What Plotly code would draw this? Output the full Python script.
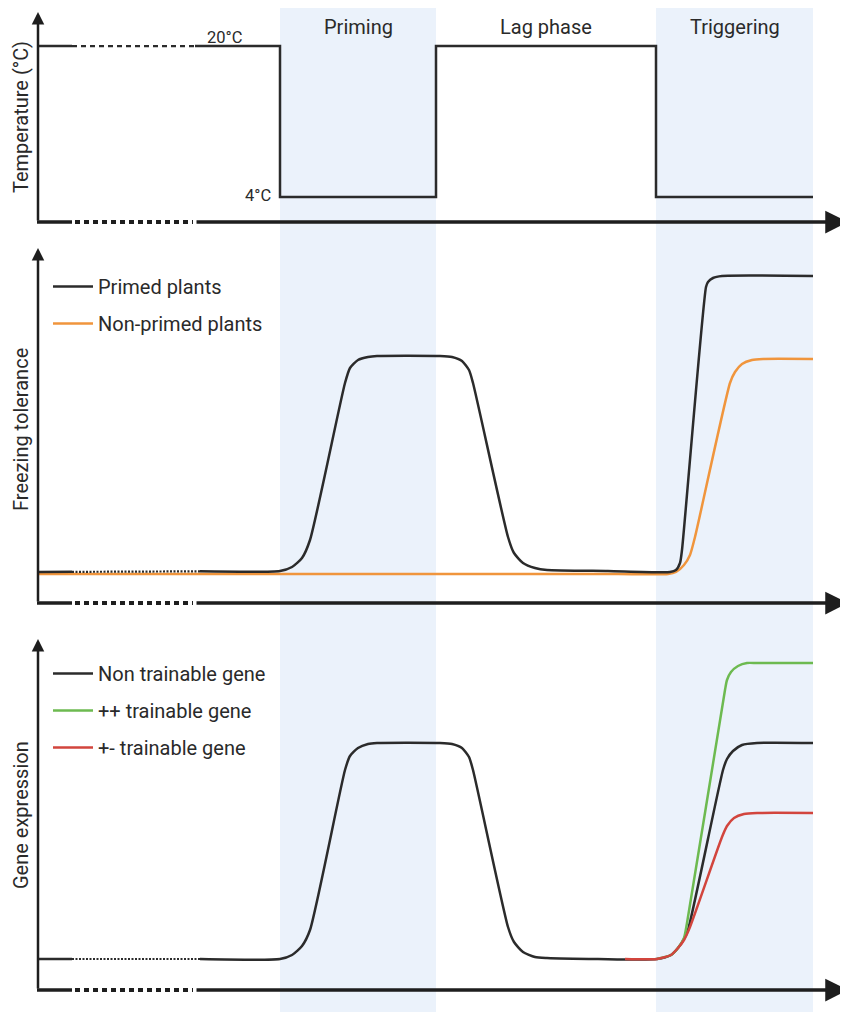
import numpy as np
import plotly.graph_objects as go

# ---------------- data (time in arbitrary units) ----------------
phase_names = ["Priming", "Lag phase", "Triggering"]
phase_starts = [24.2, 39.8, 61.8]
phase_ends = [39.8, 61.8, 77.5]
phase_shaded = [True, False, True]

# break in the time axis (drawn dotted)
break_start = 3.4
break_end = 15.7
curve_break_end = 16.2

# Temperature panel
temp_time = [0, 24.2, 24.2, 39.8, 39.8, 61.8, 61.8, 77.5]
temp_value = [20, 20, 4, 4, 20, 20, 4, 4]
temp_label_text = ["20°C", "4°C"]
temp_label_time = [18.6, 23.5]
temp_label_value = [20.95, 4.2]

# Freezing tolerance panel
primed_time = [0, 24.2, 25.4, 26.4, 27.2, 30.7, 31.2, 32.0, 33.0, 33.9, 40.2, 41.4, 42.4,
               43.1, 43.5, 47.0, 47.6, 48.5, 49.7, 50.9, 57.0, 63.2, 63.8, 64.2, 64.4, 66.8,
               67.0, 67.5, 68.4, 77.5]
primed_value = [3.1, 3.2, 3.6, 4.5, 6.3, 22.0, 23.5, 24.3, 24.6, 24.7, 24.7, 24.6, 24.2,
                23.3, 22.0, 6.6, 5.0, 4.0, 3.5, 3.3, 3.2, 3.1, 3.3, 4.0, 5.3, 31.6,
                32.1, 32.5, 32.7, 32.7]
nonprimed_time = [0, 10.0, 20.0, 30.0, 40.0, 50.0, 58.0, 63.0, 63.8, 64.6, 65.2, 65.7,
                  69.2, 69.7, 70.4, 71.4, 72.5, 77.5]
nonprimed_value = [2.9, 2.9, 2.9, 2.9, 2.9, 2.9, 2.9, 2.9, 3.1, 3.8, 4.8, 6.6,
                   22.0, 23.1, 23.9, 24.3, 24.4, 24.4]

# Gene expression panel
nontrain_time = [0, 24.2, 25.4, 26.4, 27.2, 30.7, 31.2, 32.0, 33.0, 33.9, 40.2, 41.4, 42.4,
                 43.1, 43.5, 47.0, 47.6, 48.5, 49.7, 50.9, 56.0, 61.9, 63.3, 64.0, 64.6,
                 65.0, 68.5, 68.9, 69.5, 70.4, 71.9, 77.5]
nontrain_value = [3.1, 3.1, 3.5, 4.4, 6.0, 22.0, 23.4, 24.2, 24.6, 24.7, 24.7, 24.6, 24.2,
                  23.3, 22.0, 6.3, 4.8, 3.8, 3.3, 3.2, 3.1, 3.1, 3.5, 4.2, 5.1,
                  6.0, 22.0, 23.1, 23.9, 24.5, 24.7, 24.7]
plusplus_time = [61.9, 63.3, 64.0, 64.6, 64.9, 68.7, 68.9, 69.3, 70.0, 70.9, 71.9, 77.5]
plusplus_value = [3.1, 3.5, 4.2, 5.2, 6.7, 30.0, 31.0, 31.8, 32.4, 32.7, 32.7, 32.7]
plusminus_time = [58.7, 61.9, 63.3, 64.0, 64.6, 65.2, 68.4, 68.9, 69.6, 70.6, 71.9, 77.5]
plusminus_value = [3.1, 3.1, 3.5, 4.2, 5.0, 6.3, 15.3, 16.4, 17.2, 17.6, 17.7, 17.7]

panel_titles = ["Temperature (°C)", "Freezing tolerance", "Gene expression"]
legend_mid = ["Primed plants", "Non-primed plants"]
legend_bot = ["Non trainable gene", "++ trainable gene", "+- trainable gene"]

# ---------------- styling ----------------
W, H = 848, 1012
OFF = 8  # page body margin
FONT = "Roboto"
TXT = "#2a2a2a"
AX = "#1e1e1e"
BLACK = "#2b2b2b"
ORANGE = "#F0953C"
GREEN = "#6DBA50"
RED = "#D2453D"
SHADE = "#EBF2FB"


def px(p):
    return (p - OFF) / W


def py(p):
    return 1 - (p - OFF) / H


x_range = [(OFF - 38) / 10, (OFF + W - 38) / 10]
x_end = 81.0
y1_range = [1.351, 24.03]
y2_range = [0, 36.3]
y3_range = [0, 36.0]
y1_dom = [py(222), py(8)]
y2_dom = [py(603), py(240)]
y3_dom = [py(990), py(630)]
axis_px = [222, 603, 990]
y_tips = [23.6, 35.5, 35.1]


def split(t, v, a, b):
    t = np.asarray(t, float)
    v = np.asarray(v, float)
    va, vb = np.interp([a, b], t, v)
    s1 = (list(t[t < a]) + [a], list(v[t < a]) + [va])
    m = (t > a) & (t < b)
    s2 = ([a] + list(t[m]) + [b], [va] + list(v[m]) + [vb])
    s3 = ([b] + list(t[t > b]), [vb] + list(v[t > b]))
    return s1, s2, s3


fig = go.Figure()


def add_curve(t, v, yaxis, color, name=None, legend=None, rank=None, dotted=None,
              shape="spline"):
    kw = dict(mode="lines", yaxis=yaxis, hoverinfo="skip")
    if dotted is not None:
        s1, s2, s3 = split(t, v, dotted[0], dotted[1])
        fig.add_trace(go.Scatter(x=s1[0], y=s1[1], line=dict(color=color, width=2.5),
                                 showlegend=False, **kw))
        fig.add_trace(go.Scatter(x=s2[0], y=s2[1],
                                 line=dict(color=color, width=2.2, dash=dotted[2]),
                                 showlegend=False, **kw))
        fig.add_trace(go.Scatter(x=s3[0], y=s3[1],
                                 line=dict(color=color, width=2.5, shape=shape,
                                           smoothing=0.6),
                                 name=name, showlegend=name is not None,
                                 legend=legend, legendgroup=name, legendrank=rank, **kw))
    else:
        fig.add_trace(go.Scatter(x=t, y=v,
                                 line=dict(color=color, width=2.5, shape=shape,
                                           smoothing=0.6),
                                 name=name, showlegend=name is not None,
                                 legend=legend, legendgroup=name, legendrank=rank, **kw))


# temperature
add_curve(temp_time, temp_value, "y", BLACK, dotted=(break_start, break_end, "5px,4px"),
          shape="linear")

# freezing tolerance
add_curve(nonprimed_time, nonprimed_value, "y2", ORANGE, name=legend_mid[1],
          legend="legend", rank=2)
add_curve(primed_time, primed_value, "y2", BLACK, name=legend_mid[0], legend="legend",
          rank=1, dotted=(break_start, curve_break_end, "2px,1.5px"))

# gene expression
add_curve(nontrain_time, nontrain_value, "y3", BLACK, name=legend_bot[0],
          legend="legend2", rank=1, dotted=(break_start, curve_break_end, "2px,1.5px"))
add_curve(plusplus_time, plusplus_value, "y3", GREEN, name=legend_bot[1],
          legend="legend2", rank=2)
add_curve(plusminus_time, plusminus_value, "y3", RED, name=legend_bot[2],
          legend="legend2", rank=3)

shapes = []
annotations = []

# shaded phases
for name, a, b, sh in zip(phase_names, phase_starts, phase_ends, phase_shaded):
    if sh:
        shapes.append(dict(type="rect", xref="x", yref="paper", x0=a, x1=b, y0=0,
                           y1=1, fillcolor=SHADE, line=dict(width=0), layer="below"))
    annotations.append(dict(x=(a + b) / 2, y=py(27), xref="x", yref="paper",
                            text=name, showarrow=False, xanchor="center",
                            yanchor="middle",
                            font=dict(family=FONT, size=20, color=TXT)))

# axes with arrows and dotted breaks
for yref, rng, tip, apx in zip(["y", "y2", "y3"], [y1_range, y2_range, y3_range],
                               y_tips, axis_px):
    y0 = rng[0]
    ypap = py(apx)
    shapes.append(dict(type="line", xref="x", yref="paper", x0=-0.1, x1=break_start,
                       y0=ypap, y1=ypap, line=dict(color=AX, width=3.5)))
    shapes.append(dict(type="line", xref="x", yref="paper", x0=break_start + 0.3,
                       x1=break_end - 0.2, y0=ypap, y1=ypap,
                       line=dict(color=AX, width=4, dash="5px,4px")))
    annotations.append(dict(x=x_end, y=y0, ax=break_end, ay=y0, xref="x", yref=yref,
                            axref="x", ayref=yref, text="", showarrow=True,
                            arrowhead=2, arrowsize=1.3, arrowwidth=3.5,
                            arrowcolor=AX, standoff=0, startstandoff=0))
    annotations.append(dict(x=0, y=tip, ax=0, ay=y0, xref="x", yref=yref,
                            axref="x", ayref=yref, text="", showarrow=True,
                            arrowhead=2, arrowsize=1.0, arrowwidth=2.5,
                            arrowcolor=AX, standoff=0, startstandoff=0))

# panel titles
for title, ypx in zip(panel_titles, [117, 430, 815]):
    annotations.append(dict(x=px(21), y=py(ypx), xref="paper", yref="paper",
                            text=title, textangle=-90, showarrow=False,
                            xanchor="center", yanchor="middle",
                            font=dict(family=FONT, size=20, color=TXT)))

# temperature labels
annotations.append(dict(x=temp_label_time[0], y=temp_label_value[0], xref="x", yref="y",
                        text=temp_label_text[0], showarrow=False, xanchor="center",
                        font=dict(family=FONT, size=16.5, color=TXT)))
annotations.append(dict(x=temp_label_time[1], y=temp_label_value[1], xref="x", yref="y",
                        text=temp_label_text[1], showarrow=False, xanchor="right",
                        font=dict(family=FONT, size=16.5, color=TXT)))

legend_style = dict(font=dict(family=FONT, size=20, color=TXT), bgcolor="rgba(0,0,0,0)",
                    traceorder="grouped", tracegroupgap=8, xanchor="left",
                    yanchor="top", itemwidth=40, borderwidth=0)

fig.update_layout(
    width=W, height=H,
    margin=dict(l=0, r=0, t=0, b=0),
    paper_bgcolor="white", plot_bgcolor="rgba(0,0,0,0)",
    font=dict(family=FONT, color=TXT),
    xaxis=dict(domain=[0, 1], range=x_range, visible=False, anchor="y3"),
    yaxis=dict(domain=y1_dom, range=y1_range, visible=False, anchor="x"),
    yaxis2=dict(domain=y2_dom, range=y2_range, visible=False, anchor="x"),
    yaxis3=dict(domain=y3_dom, range=y3_range, visible=False, anchor="x"),
    shapes=shapes,
    annotations=annotations,
    legend=dict(x=px(48), y=py(267), **legend_style),
    legend2=dict(x=px(48), y=py(654), **legend_style),
    showlegend=True,
)

fig.write_html("out.html")
